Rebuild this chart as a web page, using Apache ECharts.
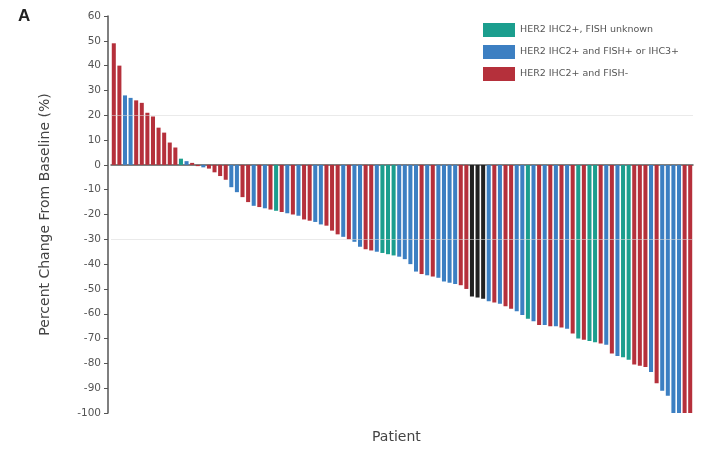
<!DOCTYPE html>
<html><head><meta charset="utf-8">
<script src="https://cdn.jsdelivr.net/npm/echarts@6/dist/echarts.min.js"></script>
<style>html,body{margin:0;padding:0;background:#fff}#c{width:705px;height:450px}</style>
</head><body><div id="c"></div>
<script>
// Percent change from baseline per patient (sorted)
const values = [49,40,28,27,26,25,21,19.5,15,13,9,7,2.5,1.5,0.8,-0.5,-1,-1.5,-3,-4.5,
-6,-9,-11,-13,-15,-16.5,-17,-17.5,-18,-18.5,-19,-19.5,-20,-20.5,-22,-22.5,-23,-24,-24.5,-26.5,
-28,-29,-30,-31,-33,-34,-34.5,-35,-35.5,-36,-36.5,-37,-38,-40,-43,-44,-44.5,-45,-45.5,-47,
-47.5,-48,-48.5,-50,-53,-53.5,-54,-55,-55.5,-56,-57,-58,-59,-60.5,-62,-63,-64.5,-64.5,-65,-65,
-65.5,-66,-68,-70,-70.5,-71,-71.5,-72,-72.5,-76,-77,-77.5,-78.5,-80.5,-81,-81.5,-83.5,-88,-91,-93,
-100,-100,-100,-100];
// T = IHC2+, FISH unknown; B = IHC2+ and FISH+ or IHC3+; R = IHC2+ and FISH-; K = other
const groups = ('RRBBRRRRRRRRTBRRBRRR' + 'RBBRRBRBRTRBRBRRBBRR' + 'RBRBBRRBTTTBBBBRBRBB' +
  'BBRRKKKBRBRRBBTBRBRB' + 'RBRTRTTRBRBTTRRRBRBB' + 'BBRR').split('');
const categories = values.map((v, i) => 'P' + (i + 1));
const groupNames = {
  T: 'HER2 IHC2+, FISH unknown',
  B: 'HER2 IHC2+ and FISH+ or IHC3+',
  R: 'HER2 IHC2+ and FISH-',
  K: 'Other'
};
const groupColors = { T: '#1b9e8e', B: '#3c7fc2', R: '#b5303b', K: '#222222' };
const yTicks = { min: -100, max: 60, interval: 10 };
const refLines = [20, -30];
const FONT = 'DejaVu Sans';

const series = ['T', 'B', 'R', 'K'].map((g, idx) => ({
  name: groupNames[g],
  type: 'bar',
  stack: 'all',
  barCategoryGap: '28%',
  itemStyle: { color: groupColors[g] },
  data: values.map((v, i) => groups[i] === g ? v : '-'),
  markLine: idx === 0 ? {
    silent: true, symbol: 'none', label: { show: false },
    lineStyle: { color: '#d8d8d8', type: 'solid', width: 1, opacity: 0.55 },
    data: refLines.map(y => ({ yAxis: y }))
  } : undefined
}));

const chart = echarts.init(document.getElementById('c'));
chart.setOption({
  animation: false,
  grid: { left: 111, right: 12, top: 16, bottom: 37 },
  legend: {
    data: [groupNames.T, groupNames.B, groupNames.R],
    orient: 'vertical', left: 478, top: 18, itemWidth: 32, itemHeight: 14, itemGap: 8,
    icon: 'rect',
    textStyle: { fontSize: 9.5, color: '#555', fontFamily: FONT }
  },
  xAxis: {
    type: 'category', data: categories,
    axisLine: { onZero: true, lineStyle: { color: '#555', width: 1.5 } },
    axisTick: { show: false }, axisLabel: { show: false }
  },
  yAxis: {
    type: 'value', min: yTicks.min, max: yTicks.max, interval: yTicks.interval,
    offset: 3,
    name: 'Percent Change From Baseline (%)', nameLocation: 'middle', nameGap: 56,
    nameTextStyle: { fontSize: 14, color: '#444', fontFamily: FONT },
    axisLine: { show: true, lineStyle: { color: '#555', width: 1.5 } },
    axisTick: { show: true, length: 4, lineStyle: { color: '#555' } },
    axisLabel: { fontSize: 10.5, color: '#555', margin: 7, fontFamily: FONT },
    splitLine: { show: false }
  },
  graphic: [
    { type: 'text', left: 18, top: 8, style: { text: 'A', font: 'bold 17px Liberation Sans', fill: '#222' } },
    { type: 'text', left: 372, top: 430, style: { text: 'Patient', font: '14px DejaVu Sans', fill: '#444' } }
  ],
  series: series
});
</script></body></html>
